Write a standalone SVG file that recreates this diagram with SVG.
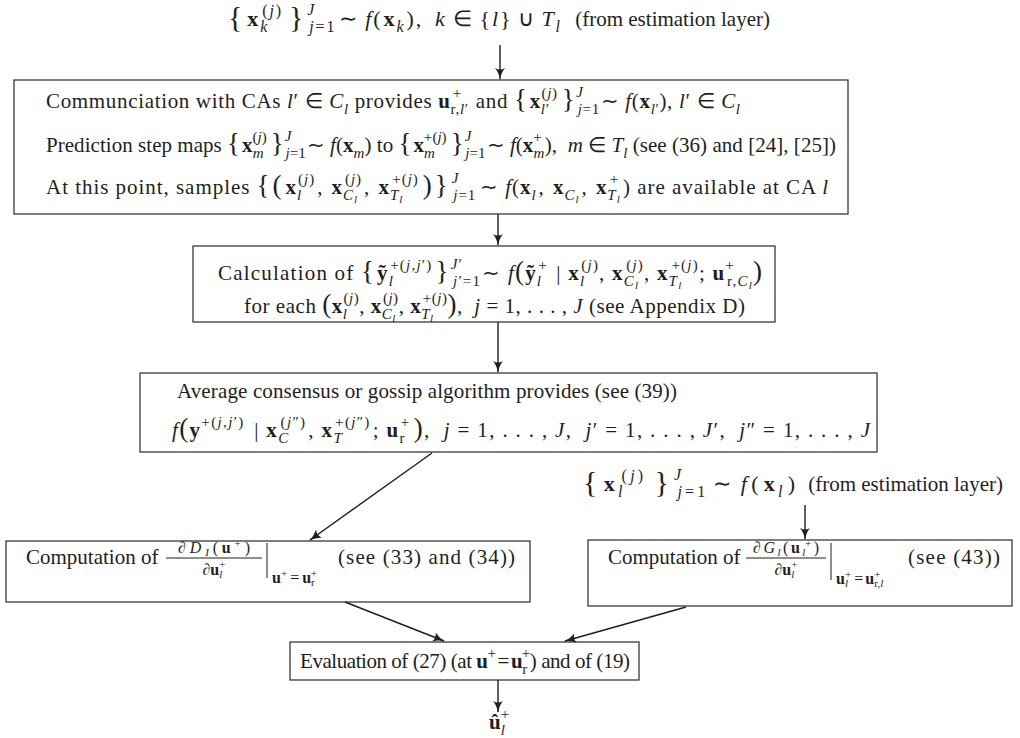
<svg xmlns="http://www.w3.org/2000/svg" width="1020" height="738" viewBox="0 0 1020 738">
<style>
.t{font-family:"Liberation Serif","Times New Roman",serif;font-size:21px;fill:#1e1e1e}
.b{font-weight:bold}
.i{font-style:italic}
.s{font-size:15px}
.s2{font-size:16px}
.f{font-size:16px}
.ss{font-size:11px}
.br{font-size:27px}
.bb{font-size:30px}
.mx{font-size:22px}
.box{fill:#fff;stroke:#3a3a3a;stroke-width:1.3}
.c{stroke:#1e1e1e;stroke-width:1.4;fill:none;marker-end:url(#ah)}
.rule{stroke:#1e1e1e;stroke-width:1}
</style>
<defs>
<marker id="ah" viewBox="0 0 12 10" refX="11" refY="5" markerWidth="12" markerHeight="10" markerUnits="userSpaceOnUse" orient="auto">
<path d="M0,0 Q5,4 12,5 Q5,6 0,10 Q3,5 0,0z" fill="#1e1e1e"/>
</marker>
</defs>
<rect width="1020" height="738" fill="#fff"/>

<g id="input-top">
<text class="t mx" x="228" y="26" textLength="332" lengthAdjust="spacing"><tspan class="bb" dy="1">{</tspan><tspan class="b" dx="3" dy="-1">x</tspan><tspan class="s2 i" dy="6">k</tspan><tspan class="s2" dx="-7" dy="-16">(<tspan class="i">j</tspan>)</tspan><tspan class="bb" dx="6" dy="11">}</tspan><tspan class="s2 i" dx="2" dy="-12">J</tspan><tspan class="s2" dx="-7" dy="17"><tspan class="i">j</tspan>=1</tspan><tspan dx="3" dy="-6">∼</tspan><tspan class="i" dx="6">f</tspan>(<tspan class="b" dx="1">x</tspan><tspan class="s2 i" dy="6">k</tspan><tspan dx="1" dy="-6">),</tspan><tspan class="i" dx="12">k</tspan><tspan dx="6">∈</tspan><tspan dx="6">{</tspan><tspan class="i">l</tspan>}<tspan dx="5">∪</tspan><tspan class="i" dx="6">T</tspan><tspan class="s2 i" dy="6">l</tspan></text>
<text class="t" x="770" y="26" text-anchor="end">(from estimation layer)</text>
</g>

<g id="box-communication">
<rect class="box" x="14" y="80" width="834" height="134"/>
<text class="t" x="46" y="108" textLength="694" lengthAdjust="spacing">Communciation with CAs <tspan class="i">l</tspan>′&#160;∈&#160;<tspan class="i">C</tspan><tspan class="s i" dy="6">l</tspan><tspan dy="-6"> provides </tspan><tspan class="b">u</tspan><tspan class="s" dy="6">r,<tspan class="i">l</tspan>′</tspan><tspan class="s" dx="-16" dy="-16">+</tspan><tspan dx="8" dy="10"> and </tspan><tspan class="br">{</tspan><tspan class="b" dx="2">x</tspan><tspan class="s i" dy="6">l</tspan><tspan class="s">′</tspan><tspan class="s" dx="-8" dy="-16">(<tspan class="i">j</tspan>)</tspan><tspan class="br" dx="4" dy="10">}</tspan><tspan class="s i" dx="1" dy="-11">J</tspan><tspan class="s" dx="-6" dy="17"><tspan class="i">j</tspan>=1</tspan><tspan dx="1" dy="-6">∼ </tspan><tspan class="i">f</tspan>(<tspan class="b">x</tspan><tspan class="s i" dy="6">l</tspan><tspan class="s">′</tspan><tspan dy="-6">), </tspan><tspan class="i">l</tspan>′&#160;∈&#160;<tspan class="i">C</tspan><tspan class="s i" dy="6">l</tspan></text>
<text class="t" x="46" y="152" textLength="790" lengthAdjust="spacing">Prediction step maps <tspan class="br">{</tspan><tspan class="b" dx="2">x</tspan><tspan class="s i" dy="6">m</tspan><tspan class="s" dx="-11" dy="-16">(<tspan class="i">j</tspan>)</tspan><tspan class="br" dx="4" dy="10">}</tspan><tspan class="s i" dx="1" dy="-11">J</tspan><tspan class="s" dx="-6" dy="17"><tspan class="i">j</tspan>=1</tspan><tspan dx="1" dy="-6">∼ </tspan><tspan class="i">f</tspan>(<tspan class="b">x</tspan><tspan class="s i" dy="6">m</tspan><tspan dy="-6">) to </tspan><tspan class="br">{</tspan><tspan class="b" dx="2">x</tspan><tspan class="s i" dy="6">m</tspan><tspan class="s" dx="-11" dy="-16">+(<tspan class="i">j</tspan>)</tspan><tspan class="br" dx="4" dy="10">}</tspan><tspan class="s i" dx="1" dy="-11">J</tspan><tspan class="s" dx="-6" dy="17"><tspan class="i">j</tspan>=1</tspan><tspan dx="1" dy="-6">∼ </tspan><tspan class="i">f</tspan>(<tspan class="b">x</tspan><tspan class="s i" dy="6">m</tspan><tspan class="s" dx="-11" dy="-16">+</tspan><tspan dx="3" dy="10">),&#160; </tspan><tspan class="i">m</tspan>&#160;∈&#160;<tspan class="i">T</tspan><tspan class="s i" dy="6">l</tspan><tspan dy="-6"> (see (36) and [24], [25])</tspan></text>
<text class="t" x="46" y="194" textLength="782" lengthAdjust="spacing">At this point, samples <tspan class="br">{</tspan><tspan class="br" dx="2">(</tspan><tspan class="b" dx="3">x</tspan><tspan class="s i" dy="6">l</tspan><tspan class="s" dx="-4" dy="-16">(<tspan class="i">j</tspan>)</tspan><tspan dx="2" dy="10">, </tspan><tspan class="b" dx="2">x</tspan><tspan class="s i" dy="6">C</tspan><tspan class="ss i" dy="3">l</tspan><tspan class="s" dx="-13" dy="-19">(<tspan class="i">j</tspan>)</tspan><tspan dx="2" dy="10">, </tspan><tspan class="b" dx="2">x</tspan><tspan class="s i" dy="6">T</tspan><tspan class="ss i" dy="3">l</tspan><tspan class="s" dx="-11" dy="-19">+(<tspan class="i">j</tspan>)</tspan><tspan class="br" dx="4" dy="10">)</tspan><tspan class="br" dx="2">}</tspan><tspan class="s i" dx="3" dy="-11">J</tspan><tspan class="s" dx="-6" dy="17"><tspan class="i">j</tspan>=1</tspan><tspan dx="4" dy="-6">∼</tspan><tspan class="i" dx="6">f</tspan>(<tspan class="b">x</tspan><tspan class="s i" dy="6">l</tspan><tspan dx="2" dy="-6">, </tspan><tspan class="b" dx="2">x</tspan><tspan class="s i" dy="6">C</tspan><tspan class="ss i" dy="3">l</tspan><tspan dx="2" dy="-9">, </tspan><tspan class="b" dx="2">x</tspan><tspan class="s i" dy="6">T</tspan><tspan class="ss i" dy="3">l</tspan><tspan class="s" dx="-11" dy="-19">+</tspan><tspan dx="4" dy="10">) are available at CA </tspan><tspan class="i">l</tspan></text>
</g>

<g id="box-calculation">
<rect class="box" x="193" y="246" width="582" height="76"/>
<text class="t" x="218" y="280" textLength="544" lengthAdjust="spacing">Calculation of <tspan class="br">{</tspan><tspan class="b" dx="2">ỹ</tspan><tspan class="s i" dy="6">l</tspan><tspan class="s" dx="-4" dy="-16">+(<tspan class="i">j</tspan>,<tspan class="i">j</tspan>′)</tspan><tspan class="br" dx="3" dy="10">}</tspan><tspan class="s i" dx="1" dy="-11">J</tspan><tspan class="s">′</tspan><tspan class="s" dx="-10" dy="17"><tspan class="i">j</tspan>′=1</tspan><tspan dx="1" dy="-6">∼ </tspan><tspan class="i">f</tspan><tspan class="br">(</tspan><tspan class="b">ỹ</tspan><tspan class="s i" dy="6">l</tspan><tspan class="s" dx="-4" dy="-16">+</tspan><tspan dx="2" dy="10"> | </tspan><tspan class="b">x</tspan><tspan class="s i" dy="6">l</tspan><tspan class="s" dx="-4" dy="-16">(<tspan class="i">j</tspan>)</tspan><tspan dy="10">, </tspan><tspan class="b">x</tspan><tspan class="s i" dy="6">C</tspan><tspan class="ss i" dy="3">l</tspan><tspan class="s" dx="-13" dy="-19">(<tspan class="i">j</tspan>)</tspan><tspan dy="10">, </tspan><tspan class="b">x</tspan><tspan class="s i" dy="6">T</tspan><tspan class="ss i" dy="3">l</tspan><tspan class="s" dx="-11" dy="-19">+(<tspan class="i">j</tspan>)</tspan><tspan dy="10">; </tspan><tspan class="b">u</tspan><tspan class="s" dy="-10">+</tspan><tspan class="s" dx="-8" dy="16">r,<tspan class="i">C</tspan></tspan><tspan class="ss i" dy="3">l</tspan><tspan class="br" dy="-9">)</tspan></text>
<text class="t" x="244" y="313" textLength="501" lengthAdjust="spacing">for each <tspan class="br">(</tspan><tspan class="b">x</tspan><tspan class="s i" dy="6">l</tspan><tspan class="s" dx="-4" dy="-16">(<tspan class="i">j</tspan>)</tspan><tspan dy="10">, </tspan><tspan class="b">x</tspan><tspan class="s i" dy="6">C</tspan><tspan class="ss i" dy="3">l</tspan><tspan class="s" dx="-13" dy="-19">(<tspan class="i">j</tspan>)</tspan><tspan dy="10">, </tspan><tspan class="b">x</tspan><tspan class="s i" dy="6">T</tspan><tspan class="ss i" dy="3">l</tspan><tspan class="s" dx="-11" dy="-19">+(<tspan class="i">j</tspan>)</tspan><tspan class="br" dy="10">)</tspan>,&#160; <tspan class="i">j</tspan>&#160;=&#160;1, . . . , <tspan class="i">J</tspan> (see Appendix D)</text>
</g>

<g id="box-consensus">
<rect class="box" x="140" y="373" width="737" height="79"/>
<text class="t" x="177" y="398" textLength="500" lengthAdjust="spacing">Average consensus or gossip algorithm provides (see (39))</text>
<text class="t" x="172" y="437" textLength="698" lengthAdjust="spacing"><tspan class="i">f</tspan><tspan class="br">(</tspan><tspan class="b">y</tspan><tspan class="s" dy="-10">+(<tspan class="i">j</tspan>,<tspan class="i">j</tspan>′)</tspan><tspan dx="3" dy="10"> | </tspan><tspan class="b">x</tspan><tspan class="s i" dy="6">C</tspan><tspan class="s" dx="-9" dy="-16">(<tspan class="i">j</tspan>″)</tspan><tspan dx="2" dy="10">, </tspan><tspan class="b">x</tspan><tspan class="s i" dy="6">T</tspan><tspan class="s" dx="-8" dy="-16">+(<tspan class="i">j</tspan>″)</tspan><tspan dx="2" dy="10">; </tspan><tspan class="b">u</tspan><tspan class="s" dy="6">r</tspan><tspan class="s" dx="-5" dy="-16">+</tspan><tspan class="br" dx="3" dy="10">)</tspan>,&#160; <tspan class="i">j</tspan>&#160;=&#160;1, . . . , <tspan class="i">J</tspan>,&#160;&#160;<tspan class="i">j</tspan>′&#160;=&#160;1, . . . , <tspan class="i">J</tspan>′,&#160;&#160;<tspan class="i">j</tspan>″&#160;=&#160;1, . . . , <tspan class="i">J</tspan></text>
</g>

<g id="input-right">
<text class="t mx" x="583" y="491" textLength="212" lengthAdjust="spacing"><tspan class="bb" dy="1">{</tspan><tspan class="b" dx="3" dy="-1">x</tspan><tspan class="s2 i" dy="6">l</tspan><tspan class="s2" dx="-4" dy="-16">(<tspan class="i">j</tspan>)</tspan><tspan class="bb" dx="8" dy="11">}</tspan><tspan class="s2 i" dx="2" dy="-12">J</tspan><tspan class="s2" dx="-7" dy="17"><tspan class="i">j</tspan>=1</tspan><tspan dx="4" dy="-6">∼</tspan><tspan class="i" dx="7">f</tspan><tspan dx="1">(</tspan><tspan class="b" dx="2">x</tspan><tspan class="s2 i" dy="6">l</tspan><tspan dx="2" dy="-6">)</tspan></text>
<text class="t" x="1003" y="491" text-anchor="end">(from estimation layer)</text>
</g>

<g id="box-dD">
<rect class="box" x="6" y="541" width="524" height="61"/>
<text class="t" x="26" y="564">Computation of</text>
<text class="t f" x="178" y="553" textLength="72" lengthAdjust="spacing">∂<tspan class="i">D</tspan><tspan class="ss i" dy="3">I</tspan><tspan dy="-3">(</tspan><tspan class="b">u</tspan><tspan class="ss" dy="-6">+</tspan><tspan dy="6">)</tspan></text>
<line class="rule" x1="166" y1="558" x2="262" y2="558"/>
<text class="t f" x="214" y="575" text-anchor="middle">∂<tspan class="b">u</tspan><tspan class="ss i" dy="3">l</tspan><tspan class="ss" dx="-3" dy="-10">+</tspan></text>
<line class="rule" x1="267" y1="543" x2="267" y2="578"/>
<text class="t f" x="272" y="583"><tspan class="b">u</tspan><tspan class="ss" dy="-6">+</tspan><tspan dx="3" dy="6">=</tspan><tspan class="b" dx="3">u</tspan><tspan class="ss" dy="3">r</tspan><tspan class="ss" dx="-4" dy="-9">+</tspan></text>
<text class="t" x="338" y="564" textLength="177" lengthAdjust="spacing">(see (33) and (34))</text>
</g>

<g id="box-dG">
<rect class="box" x="588" y="540" width="424" height="66"/>
<text class="t" x="608" y="564">Computation of</text>
<text class="t f" x="753" y="553" textLength="66" lengthAdjust="spacing">∂<tspan class="i">G</tspan><tspan class="ss i" dy="3">l</tspan><tspan dy="-3">(</tspan><tspan class="b">u</tspan><tspan class="ss i" dy="3">l</tspan><tspan class="ss" dx="-3" dy="-9">+</tspan><tspan dy="6">)</tspan></text>
<line class="rule" x1="746" y1="558" x2="826" y2="558"/>
<text class="t f" x="786" y="575" text-anchor="middle">∂<tspan class="b">u</tspan><tspan class="ss i" dy="3">l</tspan><tspan class="ss" dx="-3" dy="-10">+</tspan></text>
<line class="rule" x1="831" y1="543" x2="831" y2="580"/>
<text class="t f" x="836" y="584"><tspan class="b">u</tspan><tspan class="ss i" dy="3">l</tspan><tspan class="ss" dx="-3" dy="-9">+</tspan><tspan dx="3" dy="6">=</tspan><tspan class="b" dx="2">u</tspan><tspan class="ss" dy="-6">+</tspan><tspan class="ss" dx="-6" dy="9">r,<tspan class="i">l</tspan></tspan></text>
<text class="t" x="908" y="564" textLength="92" lengthAdjust="spacing">(see (43))</text>
</g>

<g id="box-evaluation">
<rect class="box" x="290" y="642" width="349" height="38"/>
<text class="t" x="300" y="668" textLength="330" lengthAdjust="spacing">Evaluation of (27) (at <tspan class="b">u</tspan><tspan class="s" dy="-10">+</tspan><tspan dx="2" dy="10">=</tspan><tspan class="b" dx="2">u</tspan><tspan class="s" dy="6">r</tspan><tspan class="s" dx="-5" dy="-16">+</tspan><tspan dy="10">) and of (19)</tspan></text>
</g>

<g id="output">
<text class="t" x="489" y="729"><tspan class="b">û</tspan><tspan class="s i" dy="6">l</tspan><tspan class="s" dx="-4" dy="-16">+</tspan></text>
</g>

<g id="connectors">
<line class="c" x1="500" y1="45" x2="500" y2="79"/>
<line class="c" x1="498" y1="214" x2="498" y2="245"/>
<line class="c" x1="498" y1="322" x2="498" y2="372"/>
<line class="c" x1="432" y1="453" x2="310" y2="540"/>
<line class="c" x1="805" y1="505" x2="805" y2="539"/>
<line class="c" x1="345" y1="602" x2="444" y2="641"/>
<line class="c" x1="686" y1="607" x2="565" y2="641"/>
<line class="c" x1="498" y1="680" x2="498" y2="712"/>
</g>
</svg>
